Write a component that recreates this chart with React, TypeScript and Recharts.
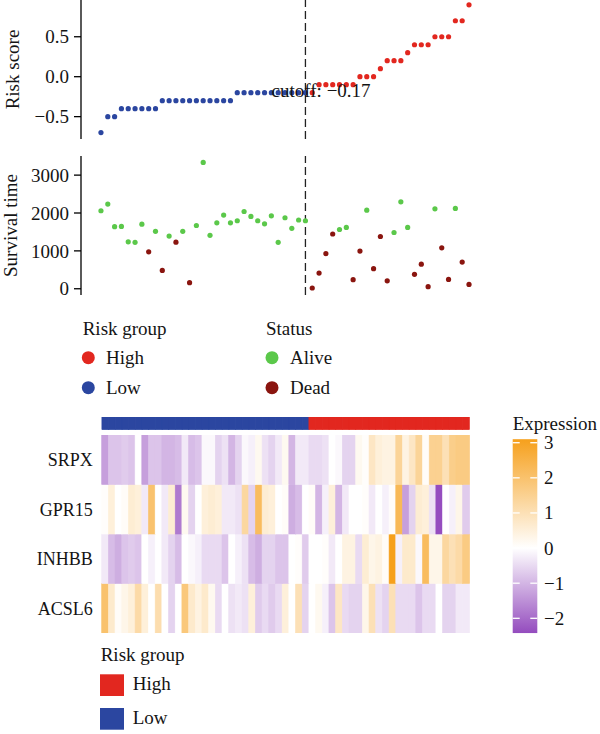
import React from 'react';
import { ScatterChart, Scatter, XAxis, YAxis, ReferenceLine, ReferenceDot, BarChart, Bar } from 'recharts';

const FONT = '"Liberation Serif", "Times New Roman", Times, serif';
const INK = '#141414';

// Patients ordered by risk score (first 31 are the low-risk group)
const RISK_SCORE = [
  -0.7, -0.5, -0.5, -0.4, -0.4, -0.4, -0.4, -0.4, -0.4,
  -0.3, -0.3, -0.3, -0.3, -0.3, -0.3, -0.3, -0.3, -0.3, -0.3, -0.3,
  -0.2, -0.2, -0.2, -0.2, -0.2, -0.2, -0.2, -0.2, -0.2, -0.2, -0.2,
  -0.2, -0.1, -0.1, -0.1, -0.1, -0.1, -0.1, 0.0, 0.0, 0.0, 0.1,
  0.2, 0.2, 0.2, 0.3, 0.4, 0.4, 0.4, 0.5, 0.5, 0.5, 0.7, 0.7, 0.9,
];
const LOW_RISK_COUNT = 31;
const CUTOFF = -0.17;
const CUTOFF_LABEL = 'cutoff: \u22120.17';
const CUTOFF_LABEL_X = 33.3;

const SURVIVAL_TIME = [
  2060, 2235, 1640, 1645, 1240, 1225, 1705, 975, 1515, 485,
  1390, 1230, 1515, 160, 1670, 3335, 1410, 1740, 1945, 1740,
  1795, 2040, 1910, 1795, 1715, 1925, 1225, 1875, 1595, 1815,
  1795, 20, 415, 925, 1445, 1565, 1620, 240, 995, 2075,
  530, 1380, 210, 1485, 2295, 1620, 380, 650, 55, 2110,
  1080, 245, 2120, 705, 115,
];
const STATUS = [
  'Alive', 'Alive', 'Alive', 'Alive', 'Alive', 'Alive', 'Alive', 'Dead', 'Alive', 'Dead',
  'Alive', 'Dead', 'Alive', 'Dead', 'Alive', 'Alive', 'Alive', 'Alive', 'Alive', 'Alive',
  'Alive', 'Alive', 'Alive', 'Alive', 'Alive', 'Alive', 'Alive', 'Alive', 'Alive', 'Alive',
  'Alive', 'Dead', 'Dead', 'Dead', 'Dead', 'Alive', 'Alive', 'Dead', 'Dead', 'Alive',
  'Dead', 'Dead', 'Dead', 'Alive', 'Alive', 'Alive', 'Dead', 'Dead', 'Dead', 'Alive',
  'Dead', 'Dead', 'Alive', 'Dead', 'Dead',
];

const GENES = ['SRPX', 'GPR15', 'INHBB', 'ACSL6'];
const SRPX = [
  -1.3, -0.8, -0.8, -0.7, -0.8, 0.0, -1.3, -0.8, -0.8, -1.0,
  -1.0, -0.9, -0.3, -0.9, -0.8, -0.1, -0.1, -0.6, -0.4, -1.0,
  -0.6, -0.1, -0.2, 0.2, -0.4, -0.6, -0.3, 0.2, -1.0, -0.3,
  -0.3, -0.5, -0.5, -0.4, 0.0, -0.1, -0.6, -0.6, 0.2, 0.05,
  0.8, 0.5, 0.4, 0.4, 1.4, 0.4, 0.8, 1.4, 0.1, 1.5,
  1.5, 1.0, 1.6, 1.7, 1.7,
];
const GPR15 = [
  0.05, 0.5, 0.0, 0.1, 0.6, 0.5, -0.3, 2.0, 0.0, -0.3,
  0.6, -1.8, 0.2, -0.6, 0.0, 0.5, 0.6, 0.5, -0.3, -0.3,
  -0.4, 1.3, -0.6, 2.2, 0.6, 0.5, 0.0, 0.1, -1.1, -0.9,
  0.0, 0.1, -1.0, -0.2, 0.5, -1.0, -0.3, 0.0, 0.0, 0.05,
  -0.3, 0.0, -0.2, 0.05, 2.3, -1.3, -0.6, 0.6, 0.5, -0.4,
  -2.4, 0.0, -0.2, 0.3, -0.7,
];
const INHBB = [
  -0.3, -0.9, -1.1, -0.8, -0.7, -0.8, 0.0, -0.2, 0.0, -0.3,
  -0.6, -0.9, 0.0, -0.1, -0.2, -0.5, -0.5, -0.5, -0.8, 0.0,
  -0.2, -0.4, -0.9, -1.1, -0.6, -0.6, -0.8, -0.8, 0.0, 0.05,
  -0.7, 0.0, 0.0, 0.05, -0.3, 0.0, 0.4, 0.4, -0.5, 0.6,
  0.3, 0.4, 0.1, 3.1, -0.2, 0.7, 0.7, -0.1, 2.2, 0.3,
  0.3, 1.3, 1.0, 1.2, 1.7,
];
const ACSL6 = [
  2.0, 0.7, 0.1, 0.3, 0.5, 1.2, 0.5, 0.0, 1.1, 0.0,
  -0.6, 0.0, 1.8, 0.7, 0.4, 0.7, 0.2, -0.5, 0.0, -0.4,
  -0.3, -0.4, 0.5, -0.7, -0.5, -0.7, -0.5, 0.5, 0.0, 1.0,
  -0.6, 0.0, 0.2, -0.2, -0.8, 0.8, -0.5, -0.6, -0.6, 0.3,
  1.0, -0.4, -0.6, 1.0, -0.5, -0.5, -0.5, -0.8, -0.5, -0.5,
  0.0, -0.6, -0.6, -0.3, -0.3,
];
const EXPRESSION: Record<string, number[]> = { SRPX, GPR15, INHBB, ACSL6 };

const RISK_TICKS = [-0.5, 0, 0.5];
const SURVIVAL_TICKS = [0, 1000, 2000, 3000];
const EXPR_TICKS = [3, 2, 1, 0, -1, -2];
const EXPR_MIN = -2.42;
const EXPR_MAX = 3.1;

const COLOR_HIGH = '#E2271F';
const COLOR_LOW = '#2B46A0';
const COLOR_ALIVE = '#5BC84A';
const COLOR_DEAD = '#8A150F';
const EXPR_LOW_RGB = [148, 76, 190];
const EXPR_HIGH_RGB = [246, 160, 28];

const rgb = (c: number[]) => `rgb(${c.join(',')})`;

function exprColor(v: number): string {
  const t = v >= 0 ? Math.min(v / EXPR_MAX, 1) : Math.min(v / EXPR_MIN, 1);
  const end = v >= 0 ? EXPR_HIGH_RGB : EXPR_LOW_RGB;
  return rgb(end.map((e) => Math.round(255 + (e - 255) * t)));
}

const minus = (s: string) => s.replace('-', '\u2212');
const fmtRisk = (v: number) => minus(v.toFixed(1));
const fmtInt = (v: number) => minus(String(v));

const dotShape = (fill: string) => (p: any) => <circle cx={p.cx} cy={p.cy} r={2.6} fill={fill} />;

// each scatter panel: 139px plot area plus room below for the lowest tick label
const PANEL_W = 600;
const PANEL_H = 152;
const PANEL_MARGIN = { top: 0, right: 113, bottom: 13, left: 0 };
const X_DOMAIN: [number, number] = [-1.93, 57.64];
const axisStroke = { stroke: '#000', strokeWidth: 1.3 };
const tickFont = { fontFamily: FONT, fontSize: 19, fill: INK };

export default function App() {
  const riskPts = RISK_SCORE.map((score, i) => ({ idx: i + 1, score }));
  const riskLow = riskPts.slice(0, LOW_RISK_COUNT);
  const riskHigh = riskPts.slice(LOW_RISK_COUNT);
  const survPts = SURVIVAL_TIME.map((time, i) => ({ idx: i + 1, time, status: STATUS[i] }));
  const survAlive = survPts.filter((d) => d.status === 'Alive');
  const survDead = survPts.filter((d) => d.status === 'Dead');

  const columns = RISK_SCORE.map((_, i) => ({
    id: i + 1,
    group: i < LOW_RISK_COUNT ? 'Low' : 'High',
    band: 1,
    ACSL6: 1,
    INHBB: 1,
    GPR15: 1,
    SRPX: 1,
  }));
  const stackOrder = [...GENES].reverse();

  const cellShape = (gene: string) => (p: any) => {
    const fill = exprColor(EXPRESSION[gene][p.payload.id - 1]);
    return <rect x={p.x} y={p.y} width={p.width} height={p.height} fill={fill} stroke={fill} strokeWidth={0.6} />;
  };
  const groupShape = (p: any) => {
    const fill = p.payload.group === 'Low' ? COLOR_LOW : COLOR_HIGH;
    return <rect x={p.x} y={p.y} width={p.width} height={p.height} fill={fill} stroke={fill} strokeWidth={0.6} />;
  };

  // colour bar geometry
  const barX = 512.7;
  const barW = 24.6;
  const barTop = 439.2;
  const unit = 35.12;
  const barY = (v: number) => barTop + (EXPR_MAX - v) * unit;
  const barBottom = barY(EXPR_MIN);
  const zeroOffset = (EXPR_MAX / (EXPR_MAX - EXPR_MIN)) * 100;

  const text = { fontFamily: FONT, fontSize: 19, fill: INK } as const;

  return (
    <div style={{ position: 'absolute', left: 0, top: 0, width: 600, height: 734, background: '#fff', overflow: 'hidden' }}>
      <div style={{ position: 'absolute', left: 0, top: 0 }}>
        <ScatterChart width={PANEL_W} height={PANEL_H} margin={PANEL_MARGIN}>
          <XAxis type="number" dataKey="idx" domain={X_DOMAIN} hide allowDataOverflow />
          <YAxis
            type="number"
            dataKey="score"
            domain={[-0.78, 0.96]}
            ticks={RISK_TICKS}
            tickFormatter={fmtRisk}
            width={81}
            tickSize={7}
            tickMargin={5}
            axisLine={axisStroke}
            tickLine={axisStroke}
            tick={tickFont}
            allowDataOverflow
            interval={0}
          />
          <ReferenceLine x={LOW_RISK_COUNT} stroke="#222" strokeWidth={1.3} strokeDasharray="8 4" />
          <Scatter data={riskLow} shape={dotShape(COLOR_LOW)} isAnimationActive={false} />
          <Scatter data={riskHigh} shape={dotShape(COLOR_HIGH)} isAnimationActive={false} />
          <ReferenceDot
            x={CUTOFF_LABEL_X}
            y={CUTOFF}
            r={1}
            shape={(p: any) => (
              <text x={p.cx} y={p.cy} textAnchor="middle" dominantBaseline="central" {...text}>
                {CUTOFF_LABEL}
              </text>
            )}
          />
        </ScatterChart>
      </div>

      <div style={{ position: 'absolute', left: 0, top: 156 }}>
        <ScatterChart width={PANEL_W} height={PANEL_H} margin={PANEL_MARGIN}>
          <XAxis type="number" dataKey="idx" domain={X_DOMAIN} hide allowDataOverflow />
          <YAxis
            type="number"
            dataKey="time"
            domain={[-165, 3505]}
            ticks={SURVIVAL_TICKS}
            tickFormatter={fmtInt}
            width={81}
            tickSize={7}
            tickMargin={5}
            axisLine={axisStroke}
            tickLine={axisStroke}
            tick={tickFont}
            allowDataOverflow
            interval={0}
          />
          <ReferenceLine x={LOW_RISK_COUNT} stroke="#222" strokeWidth={1.3} strokeDasharray="8 4" />
          <Scatter data={survAlive} shape={dotShape(COLOR_ALIVE)} isAnimationActive={false} />
          <Scatter data={survDead} shape={dotShape(COLOR_DEAD)} isAnimationActive={false} />
        </ScatterChart>
      </div>

      <div style={{ position: 'absolute', left: 0, top: 417.3 }}>
        <BarChart width={600} height={12.7} data={columns} margin={{ top: 0, right: 130.7, bottom: 0, left: 101.7 }} barCategoryGap={0} barGap={0}>
          <XAxis dataKey="id" type="category" hide />
          <YAxis type="number" domain={[0, 1]} hide />
          <Bar dataKey="band" shape={groupShape} isAnimationActive={false} />
        </BarChart>
      </div>

      <div style={{ position: 'absolute', left: 0, top: 435 }}>
        <BarChart width={600} height={198} data={columns} margin={{ top: 0, right: 130.7, bottom: 0, left: 0 }} barCategoryGap={0} barGap={0}>
          <XAxis dataKey="id" type="category" hide />
          <YAxis
            type="number"
            domain={[0, 4]}
            ticks={[0.5, 1.5, 2.5, 3.5]}
            tickFormatter={(v: number) => stackOrder[Math.floor(v)]}
            width={101.7}
            axisLine={false}
            tickLine={false}
            tickSize={0}
            tickMargin={9}
            tick={{ fontFamily: FONT, fontSize: 18, fill: INK }}
            interval={0}
          />
          {stackOrder.map((g) => (
            <Bar key={g} dataKey={g} stackId="heat" shape={cellShape(g)} isAnimationActive={false} />
          ))}
        </BarChart>
      </div>

      <svg width={600} height={734} style={{ position: 'absolute', left: 0, top: 0, pointerEvents: 'none' }}>
        <defs>
          <linearGradient id="exprGrad" x1="0" y1="0" x2="0" y2="1">
            <stop offset="0%" stopColor={exprColor(EXPR_MAX)} />
            <stop offset={`${zeroOffset}%`} stopColor="#ffffff" />
            <stop offset="100%" stopColor={exprColor(EXPR_MIN)} />
          </linearGradient>
        </defs>

        <text transform="translate(19.3,69.5) rotate(-90)" textAnchor="middle" {...text}>Risk score</text>
        <text transform="translate(16.7,225.5) rotate(-90)" textAnchor="middle" {...text}>Survival time</text>

        <text x={82.7} y={335} {...text}>Risk group</text>
        <circle cx={88.3} cy={357.7} r={6.5} fill={COLOR_HIGH} />
        <text x={106} y={364} {...text}>High</text>
        <circle cx={88.3} cy={387.7} r={6.5} fill={COLOR_LOW} />
        <text x={106} y={394} {...text}>Low</text>

        <text x={266} y={335} {...text}>Status</text>
        <circle cx={272} cy={357.7} r={6.5} fill={COLOR_ALIVE} />
        <text x={290} y={364} {...text}>Alive</text>
        <circle cx={272} cy={387.7} r={6.5} fill={COLOR_DEAD} />
        <text x={290} y={394} {...text}>Dead</text>

        <text x={barX} y={430} {...text}>Expression</text>
        <rect x={barX} y={barTop} width={barW} height={barBottom - barTop} fill="url(#exprGrad)" />
        {EXPR_TICKS.map((t) => (
          <g key={t}>
            <line x1={barX} x2={barX + 7} y1={barY(t)} y2={barY(t)} stroke="#fff" strokeWidth={1.3} />
            <line x1={barX + barW - 7} x2={barX + barW} y1={barY(t)} y2={barY(t)} stroke="#fff" strokeWidth={1.3} />
            <text x={544} y={barY(t)} dominantBaseline="central" {...text}>{fmtInt(t)}</text>
          </g>
        ))}

        <text x={100.7} y={661} {...text}>Risk group</text>
        <rect x={100} y={674.3} width={24} height={21.7} fill={COLOR_HIGH} />
        <text x={132.7} y={690} {...text}>High</text>
        <rect x={100} y={708} width={24} height={21.7} fill={COLOR_LOW} />
        <text x={132.7} y={724} {...text}>Low</text>
      </svg>
    </div>
  );
}
